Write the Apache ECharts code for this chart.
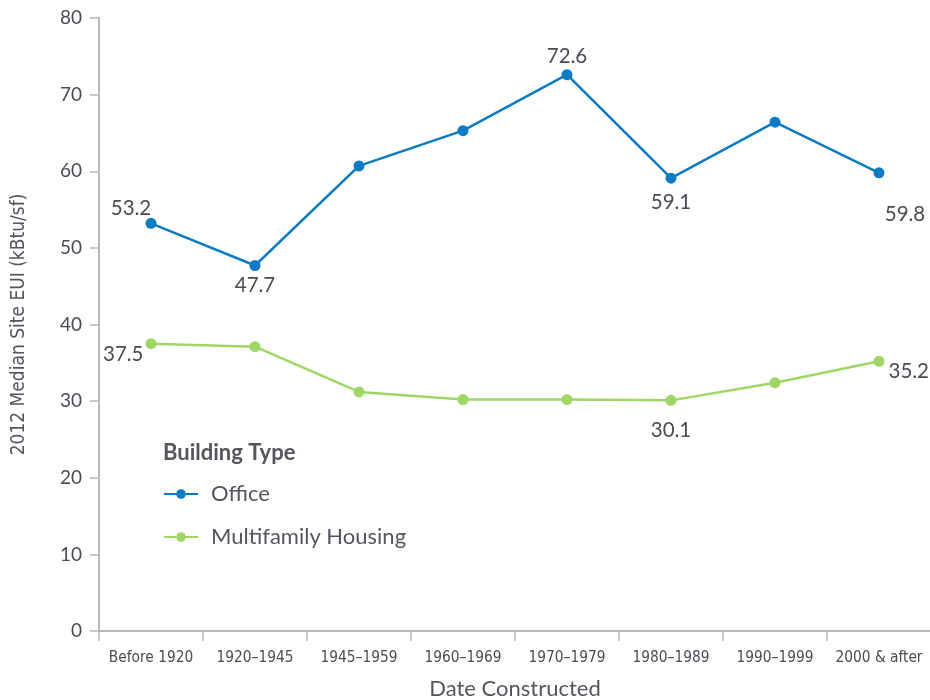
<!DOCTYPE html>
<html><head><meta charset="utf-8">
<script src="https://cdn.jsdelivr.net/npm/echarts@6/dist/echarts.min.js"></script>
<style>html,body{margin:0;padding:0;background:#fff}#c{width:930px;height:700px}</style>
</head><body><div id="c"></div>
<script>
const categories = ["Before 1920","1920–1945","1945–1959","1960–1969","1970–1979","1980–1989","1990–1999","2000 & after"];
const officeValues = [53.2, 47.7, 60.7, 65.3, 72.6, 59.1, 66.4, 59.8];
const multifamilyValues = [37.5, 37.1, 31.2, 30.2, 30.2, 30.1, 32.4, 35.2];
const yTicks = [0,10,20,30,40,50,60,70,80];
const seriesNames = ["Office","Multifamily Housing"];

// which points get a value label, and where
const officeLabelPos = {0:{position:'top',offset:[-20,6]},1:{position:'bottom',offset:[0,-1]},4:{position:'top',offset:[0,3]},5:{position:'bottom',offset:[0,3]},7:{position:'bottom',offset:[26,21]}};
const multiLabelPos = {0:{position:'left',offset:[3,11]},5:{position:'bottom',offset:[0,9]},7:{position:'right',offset:[-1,10]}};

const labelStyle = {show:true, fontFamily:'Lato, "Open Sans", sans-serif', fontSize:20.5, color:'#4b4b55', formatter: p => p.value.toFixed(1)};
function build(vals, posMap){
  return vals.map((v,i)=> posMap[i] ? {value:v, label:Object.assign({}, labelStyle, posMap[i])} : {value:v});
}
const axisColor = '#b9b9b9';
const chart = echarts.init(document.getElementById('c'));
chart.setOption({
  animation:false,
  grid:{left:99, top:18, width:832, height:613, containLabel:false, outerBoundsMode:'none'},
  title:{text:'Building Type', left:158, top:437, textStyle:{fontFamily:'Lato, "Open Sans", sans-serif', fontSize:22, fontWeight:'bold', color:'#555560'}},
  legend:{orient:'vertical', left:158, top:478, itemWidth:34, itemHeight:12, itemGap:21,
    textStyle:{fontFamily:'Lato, "Open Sans", sans-serif', fontSize:22, color:'#555560', padding:[0,0,0,8]},
    data:seriesNames},
  xAxis:{type:'category', data:categories, boundaryGap:true,
    axisLine:{lineStyle:{color:axisColor, width:2}},
    axisTick:{show:true, interval:0, length:10, lineStyle:{color:axisColor, width:1.5}},
    axisLabel:{interval:0, fontFamily:'"DejaVu Sans Condensed", "Liberation Sans Narrow", sans-serif', fontSize:15.3, color:'#4b4b55', margin:20},
    name:'Date Constructed', nameLocation:'middle', nameGap:47,
    nameTextStyle:{fontFamily:'Lato, "Open Sans", sans-serif', fontSize:22, color:'#555560'}},
  yAxis:{type:'value', min:yTicks[0], max:yTicks[yTicks.length-1], interval:10,
    axisLine:{show:true, lineStyle:{color:axisColor, width:2}},
    axisTick:{show:true, length:9, lineStyle:{color:axisColor, width:1.5}},
    splitLine:{show:false},
    axisLabel:{fontFamily:'Lato, "Open Sans", sans-serif', fontSize:19, color:'#4b4b55', margin:17},
    name:'2012 Median Site EUI (kBtu/sf)', nameLocation:'middle', nameGap:70, nameRotate:90,
    nameTextStyle:{fontFamily:'"DejaVu Sans Condensed", "Liberation Sans Narrow", sans-serif', fontSize:19, color:'#555560'}},
  series:[
    {name:seriesNames[0], type:'line', data:build(officeValues, officeLabelPos), symbol:'circle', symbolSize:11,
      lineStyle:{color:'#0b7bc4', width:2.5}, itemStyle:{color:'#0b7bc4'}, label:{show:false}},
    {name:seriesNames[1], type:'line', data:build(multifamilyValues, multiLabelPos), symbol:'circle', symbolSize:11,
      lineStyle:{color:'#9ed766', width:2.5}, itemStyle:{color:'#9ed766'}, label:{show:false}}
  ]
});
</script></body></html>
